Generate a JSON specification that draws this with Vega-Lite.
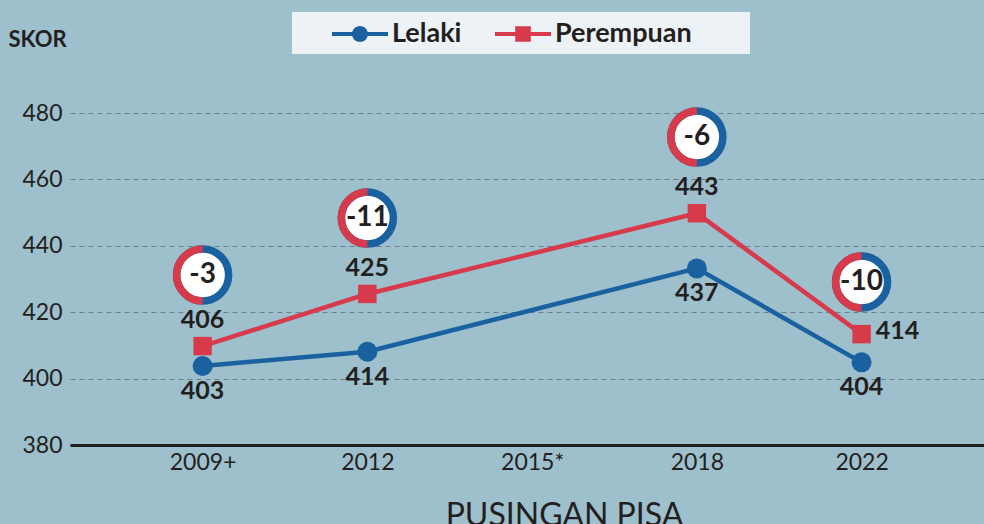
{
  "$schema": "https://vega.github.io/schema/vega-lite/v6.json",
  "width": 914,
  "height": 332,
  "autosize": {"type": "none"},
  "padding": {"left": 70, "top": 113, "right": 0, "bottom": 79},
  "background": "#9ebfcc",
  "config": {"view": {"stroke": null}, "font": "Lato"},
  "datasets": {
    "scores": [
      {"year": "2009+", "gender": "Lelaki", "score": 403.8, "label": "403"},
      {"year": "2012", "gender": "Lelaki", "score": 408.1, "label": "414"},
      {"year": "2018", "gender": "Lelaki", "score": 433.2, "label": "437"},
      {"year": "2022", "gender": "Lelaki", "score": 404.9, "label": "404"},
      {"year": "2009+", "gender": "Perempuan", "score": 409.8, "label": "406"},
      {"year": "2012", "gender": "Perempuan", "score": 425.5, "label": "425"},
      {"year": "2018", "gender": "Perempuan", "score": 449.8, "label": "443"},
      {"year": "2022", "gender": "Perempuan", "score": 413.4, "label": "414"}
    ],
    "gaps": [
      {"year": "2009+", "gap": "-3", "ring": 431.2},
      {"year": "2012", "gap": "-11", "ring": 448.4},
      {"year": "2018", "gap": "-6", "ring": 472.8},
      {"year": "2022", "gap": "-10", "ring": 429.1}
    ]
  },
  "encoding": {
    "x": {
      "field": "year",
      "type": "ordinal",
      "scale": {"type": "point", "domain": ["2009+", "2012", "2015*", "2018", "2022"], "padding": 0.774, "align": 0.52},
      "axis": {
        "title": "PUSINGAN PISA",
        "labelAngle": 0,
        "domain": true,
        "domainColor": "#231f20",
        "domainWidth": 3,
        "ticks": false,
        "grid": false,
        "labelFontSize": 23,
        "labelColor": "#231f20",
        "labelPadding": 6,
        "labelFont": "Lato",
        "titleFontSize": 32,
        "titleFontWeight": "normal",
        "titleColor": "#231f20",
        "titleFont": "Lato",
        "titleX": 494,
        "titleY": 80,
        "titleAlign": "center",
        "titleBaseline": "alphabetic"
      }
    }
  },
  "layer": [
    {
      "data": {"name": "scores"},
      "mark": {"type": "line", "strokeWidth": 4.5},
      "encoding": {
        "y": {
          "field": "score",
          "type": "quantitative",
          "scale": {"domain": [380, 480], "zero": false},
          "axis": {
            "title": "SKOR",
            "values": [380, 400, 420, 440, 460, 480],
            "grid": true,
            "gridDash": [5, 4],
            "gridColor": "#66808c",
            "gridWidth": 1,
            "domain": false,
            "ticks": false,
            "labelFontSize": 23,
            "labelColor": "#231f20",
            "labelPadding": 8,
            "labelFont": "Lato",
            "titleAngle": 0,
            "titleAlign": "left",
            "titleBaseline": "alphabetic",
            "titleX": -62,
            "titleY": -67,
            "titleFontSize": 22,
            "titleFontWeight": "bold",
            "titleColor": "#231f20",
            "titleFont": "Lato"
          }
        },
        "color": {
          "field": "gender",
          "type": "nominal",
          "scale": {"domain": ["Lelaki", "Perempuan"], "range": ["#1a61a0", "#d63a4b"]},
          "legend": {
            "orient": "none",
            "legendX": 222,
            "legendY": -101,
            "direction": "horizontal",
            "title": "\u200b",
            "titleOrient": "right",
            "titleFontSize": 10,
            "titlePadding": 51,
            "fillColor": "#edf2f6",
            "padding": 7,
            "labelFontSize": 27,
            "labelFontWeight": "bold",
            "labelFont": "Lato",
            "labelColor": "#231f20",
            "symbolSize": 900,
            "labelOffset": 17,
            "columnPadding": 0,
            "symbolOffset": 46,
            "encode": {
              "symbols": {
                "update": {
                  "shape": [
                    {"test": "datum.value === 'Lelaki'", "value": "M-1.867,-0.133H1.867V0.133H-1.867ZM0.533,0A0.533,0.533 0 1,1 -0.533,0A0.533,0.533 0 1,1 0.533,0Z"},
                    {"value": "M-1.867,-0.133H1.867V0.133H-1.867ZM-0.52,-0.52H0.52V0.52H-0.52Z"}
                  ],
                  "fill": {"scale": "color", "field": "value"},
                  "stroke": {"value": "transparent"},
                  "strokeWidth": {"value": 0},
                  "opacity": {"value": 1}
                }
              }
            }
          }
        }
      }
    },
    {
      "data": {"name": "scores"},
      "transform": [{"filter": "datum.gender === 'Lelaki'"}],
      "mark": {"type": "point", "shape": "circle", "filled": true, "opacity": 1, "size": 400},
      "encoding": {
        "y": {"field": "score", "type": "quantitative"},
        "color": {"field": "gender", "type": "nominal"}
      }
    },
    {
      "data": {"name": "scores"},
      "transform": [{"filter": "datum.gender === 'Perempuan'"}],
      "mark": {"type": "point", "shape": "square", "filled": true, "opacity": 1, "size": 340},
      "encoding": {
        "y": {"field": "score", "type": "quantitative"},
        "color": {"field": "gender", "type": "nominal"}
      }
    },
    {
      "data": {"name": "scores"},
      "transform": [{"filter": "datum.gender === 'Lelaki'"}],
      "mark": {"type": "text", "dy": 25, "fontSize": 25, "fontWeight": "bold", "font": "Lato", "color": "#231f20", "baseline": "middle"},
      "encoding": {
        "y": {"field": "score", "type": "quantitative"},
        "text": {"field": "label"}
      }
    },
    {
      "data": {"name": "scores"},
      "transform": [{"filter": "datum.gender === 'Perempuan' && datum.year !== '2022'"}],
      "mark": {"type": "text", "dy": -26, "fontSize": 25, "fontWeight": "bold", "font": "Lato", "color": "#231f20", "baseline": "middle"},
      "encoding": {
        "y": {"field": "score", "type": "quantitative"},
        "text": {"field": "label"}
      }
    },
    {
      "data": {"name": "scores"},
      "transform": [{"filter": "datum.gender === 'Perempuan' && datum.year === '2022'"}],
      "mark": {"type": "text", "dx": 36, "dy": -3, "fontSize": 25, "fontWeight": "bold", "font": "Lato", "color": "#231f20", "baseline": "middle"},
      "encoding": {
        "y": {"field": "score", "type": "quantitative"},
        "text": {"field": "label"}
      }
    },
    {
      "data": {"name": "gaps"},
      "mark": {"type": "point", "shape": "circle", "filled": true, "fill": "#ffffff", "stroke": "#1a61a0", "strokeWidth": 7.5, "size": 2704, "opacity": 1, "fillOpacity": 1, "strokeOpacity": 1},
      "encoding": {
        "y": {"field": "ring", "type": "quantitative"}
      }
    },
    {
      "data": {"name": "gaps"},
      "mark": {"type": "point", "shape": "M0,-1A1,1 0 0,0 0,1", "filled": false, "stroke": "#d63a4b", "strokeWidth": 7.5, "size": 2704, "opacity": 1, "strokeOpacity": 1},
      "encoding": {
        "y": {"field": "ring", "type": "quantitative"}
      }
    },
    {
      "data": {"name": "gaps"},
      "mark": {"type": "text", "fontSize": 28, "fontWeight": "bold", "font": "Lato", "color": "#231f20", "baseline": "middle"},
      "encoding": {
        "y": {"field": "ring", "type": "quantitative"},
        "text": {"field": "gap"}
      }
    }
  ]
}
